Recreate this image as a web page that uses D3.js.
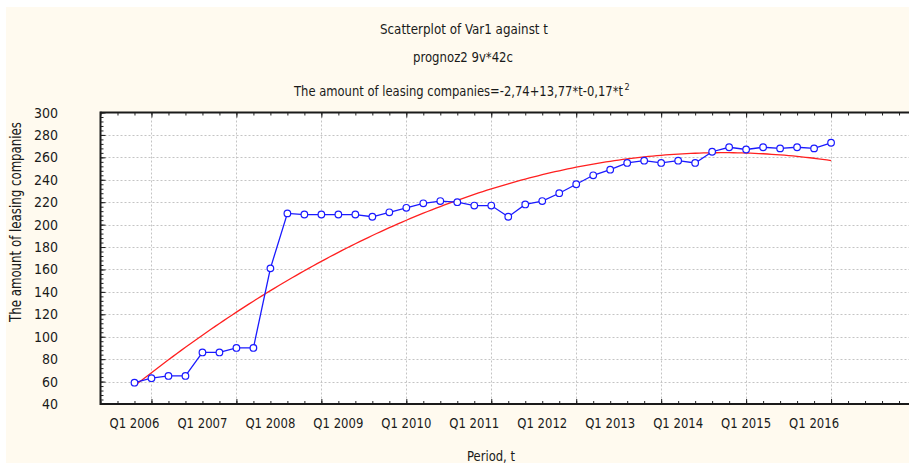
<!DOCTYPE html>
<html>
<head>
<meta charset="utf-8">
<script src="https://cdn.jsdelivr.net/npm/d3@7/dist/d3.min.js"></script>
<style>
  html, body { margin: 0; padding: 0; background: #ffffff; }
  svg { display: block; }
  text { font-family: "Liberation Sans Narrow", "Arial Narrow", "DejaVu Sans Condensed", sans-serif; fill: #1a1a1a; }
</style>
</head>
<body>
<svg id="chart" width="909" height="463"></svg>
<script>
// ---- data ----
const periods = d3.range(1, 43); // period index 1..42 (Q1 2006 .. Q2 2016)
const values = [59, 63, 65, 65, 86, 86, 90, 90, 161, 210,
                209, 209, 209, 209, 207, 211, 215, 219, 221, 220,
                217, 217, 207, 218, 221, 228, 236, 244, 249, 255,
                257, 255, 257, 255, 265, 269, 267, 269, 268, 269,
                268, 273];
const xTickLabels = ["Q1 2006", "Q1 2007", "Q1 2008", "Q1 2009", "Q1 2010", "Q1 2011",
                     "Q1 2012", "Q1 2013", "Q1 2014", "Q1 2015", "Q1 2016"];
const xTickPositions = [1, 5, 9, 13, 17, 21, 25, 29, 33, 37, 41];
const xGrid = [2, 7, 12, 17, 22, 27, 32, 37, 42, 47];
const yTicks = [40, 60, 80, 100, 120, 140, 160, 180, 200, 220, 240, 260, 280, 300];
const titles = ["Scatterplot of Var1 against t", "prognoz2 9v*42c",
                "The amount of leasing companies=-2,74+13,77*t-0,17*t", "2"];

// ---- quadratic least-squares fit of values on t ----
function quadFit(xs, ys) {
  const n = xs.length;
  let S = [0,0,0,0,0], T = [0,0,0];
  for (let i = 0; i < n; i++) {
    const xv = xs[i], yv = ys[i];
    let p = 1;
    for (let k = 0; k < 5; k++) { S[k] += p; if (k < 3) T[k] += p * yv; p *= xv; }
  }
  const A = [[S[0],S[1],S[2],T[0]],[S[1],S[2],S[3],T[1]],[S[2],S[3],S[4],T[2]]];
  for (let i = 0; i < 3; i++) {
    for (let j = i + 1; j < 3; j++) {
      const f = A[j][i] / A[i][i];
      for (let k = i; k < 4; k++) A[j][k] -= f * A[i][k];
    }
  }
  const c = [0,0,0];
  for (let i = 2; i >= 0; i--) {
    let s = A[i][3];
    for (let k = i + 1; k < 3; k++) s -= A[i][k] * c[k];
    c[i] = s / A[i][i];
  }
  return c;
}
const coef = quadFit(periods, values);
const fitT = d3.range(1, 42.01, 0.25);

// ---- layout ----
const svg = d3.select("#chart");
const W = 909, H = 463;
const pL = 100.5, pT = 112.5, pB = 404;

svg.append("rect").attr("x", 6).attr("y", 7).attr("width", W - 6).attr("height", H - 7).attr("fill", "#fffaef");

const x = d3.scaleLinear().domain([-1, 47.5]).range([pL, pL + 48.5 * 16.99]);
const y = d3.scaleLinear().domain([40, 300]).range([pB, pT]);
const pR = x(47.5);

// plot background
svg.append("rect").attr("x", pL).attr("y", pT).attr("width", pR - pL).attr("height", pB - pT).attr("fill", "#ffffff");

// gridlines
const grid = svg.append("g").attr("stroke", "#c4c4c4").attr("stroke-width", 1).attr("stroke-dasharray", "2,2");
yTicks.filter(v => v > 40 && v < 300).forEach(v => {
  grid.append("line").attr("x1", pL).attr("x2", pR).attr("y1", Math.round(y(v)) + 0.5).attr("y2", Math.round(y(v)) + 0.5);
});
xGrid.forEach(v => {
  grid.append("line").attr("y1", pT).attr("y2", pB).attr("x1", Math.round(x(v)) + 0.5).attr("x2", Math.round(x(v)) + 0.5);
});

// axes with inward ticks
const minorX = d3.range(-1, 48);
const gxb = svg.append("g").attr("transform", `translate(0,${pB})`).call(d3.axisBottom(x).tickValues(minorX).tickSize(-3).tickFormat(""));
const gxt = svg.append("g").attr("transform", `translate(0,${pT})`).call(d3.axisTop(x).tickValues(minorX).tickSize(-3).tickFormat(""));
const gxbM = svg.append("g").attr("transform", `translate(0,${pB})`).call(d3.axisBottom(x).tickValues(xGrid).tickSize(-5).tickFormat(""));
const gxtM = svg.append("g").attr("transform", `translate(0,${pT})`).call(d3.axisTop(x).tickValues(xGrid).tickSize(-5).tickFormat(""));
const minorY = d3.range(40, 301, 4);
const gyl = svg.append("g").attr("transform", `translate(${pL},0)`).call(d3.axisLeft(y).tickValues(minorY).tickSize(-3).tickFormat(""));
const gylM = svg.append("g").attr("transform", `translate(${pL},0)`).call(d3.axisLeft(y).tickValues(yTicks).tickSize(-5).tickFormat(""));
[gxb, gxt, gxbM, gxtM, gyl, gylM].forEach(g => {
  g.select(".domain").remove();
  g.selectAll("line").attr("stroke", "#222").attr("stroke-width", 1);
});

// frame
svg.append("line").attr("x1", pL).attr("x2", pR).attr("y1", pT).attr("y2", pT).attr("stroke", "#1a1a1a").attr("stroke-width", 2);
svg.append("line").attr("x1", pL).attr("x2", pR).attr("y1", pB).attr("y2", pB).attr("stroke", "#1a1a1a").attr("stroke-width", 2);
svg.append("line").attr("x1", pL).attr("x2", pL).attr("y1", pT - 1).attr("y2", pB + 1).attr("stroke", "#1a1a1a").attr("stroke-width", 2);

// y tick labels
svg.append("g").selectAll("text").data(yTicks).join("text")
  .attr("x", 58).attr("y", d => y(d) + 5)
  .attr("text-anchor", "end").attr("font-size", 14)
  .text(d => d);

// x tick labels
svg.append("g").selectAll("text").data(xTickLabels).join("text")
  .attr("x", (d, i) => x(xTickPositions[i])).attr("y", 428)
  .attr("text-anchor", "middle").attr("font-size", 14)
  .attr("textLength", 50).attr("lengthAdjust", "spacingAndGlyphs")
  .text(d => d);

// axis titles
svg.append("text").attr("x", 491).attr("y", 461).attr("text-anchor", "middle").attr("font-size", 14)
  .attr("textLength", 48).attr("lengthAdjust", "spacingAndGlyphs").text("Period, t");
svg.append("text").attr("transform", "translate(21,222) rotate(-90)").attr("text-anchor", "middle").attr("font-size", 15)
  .attr("textLength", 200).attr("lengthAdjust", "spacingAndGlyphs").text("The amount of leasing companies");

// titles
svg.append("text").attr("x", 464).attr("y", 34).attr("text-anchor", "middle").attr("font-size", 14)
  .attr("textLength", 168).attr("lengthAdjust", "spacingAndGlyphs").text(titles[0]);
svg.append("text").attr("x", 463).attr("y", 62).attr("text-anchor", "middle").attr("font-size", 14)
  .attr("textLength", 100).attr("lengthAdjust", "spacingAndGlyphs").text(titles[1]);
svg.append("text").attr("x", 294).attr("y", 96).attr("text-anchor", "start").attr("font-size", 14)
  .attr("textLength", 329).attr("lengthAdjust", "spacingAndGlyphs").text(titles[2]);
svg.append("text").attr("x", 624.5).attr("y", 90).attr("text-anchor", "start").attr("font-size", 9).text(titles[3]);

// fitted curve
svg.append("path")
  .datum(fitT)
  .attr("fill", "none").attr("stroke", "#ff2020").attr("stroke-width", 1.3)
  .attr("d", d3.line().x(d => x(d)).y(d => y(coef[0] + coef[1] * d + coef[2] * d * d)));

// data line
svg.append("path")
  .datum(values)
  .attr("fill", "none").attr("stroke", "#1a1aff").attr("stroke-width", 1.3)
  .attr("d", d3.line().x((d, i) => x(periods[i])).y(d => y(d)));

// markers
svg.append("g").selectAll("circle").data(values).join("circle")
  .attr("cx", (d, i) => x(periods[i])).attr("cy", d => y(d)).attr("r", 3.3)
  .attr("fill", "#ffffff").attr("stroke", "#1a1aff").attr("stroke-width", 1.2);
</script>
</body>
</html>
